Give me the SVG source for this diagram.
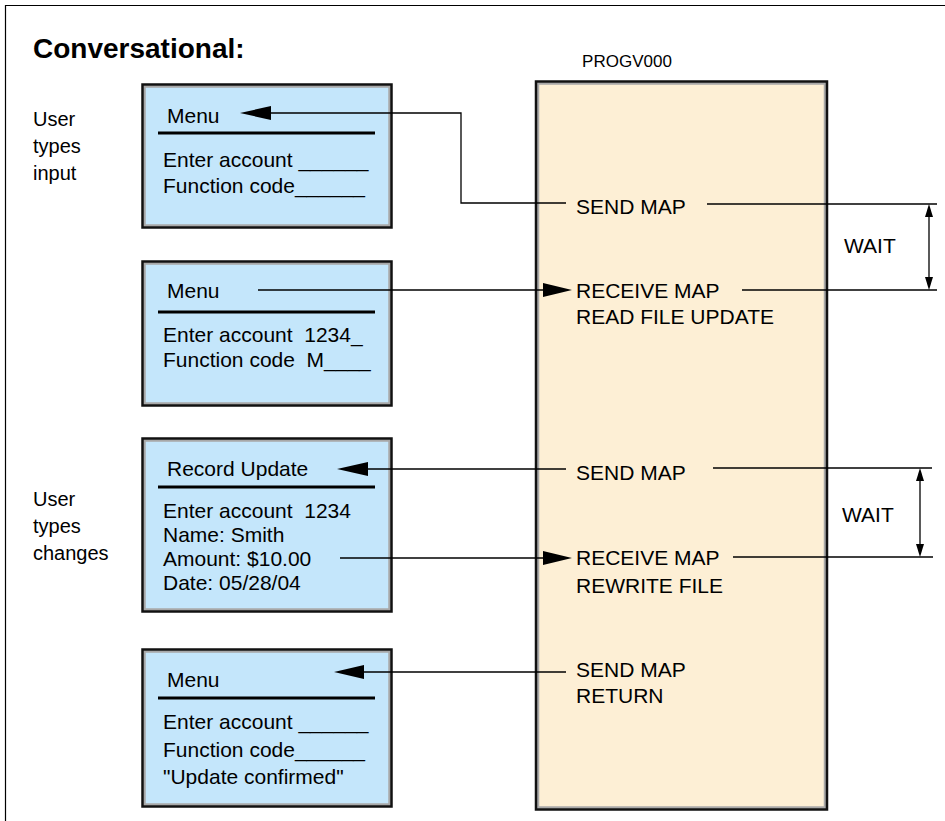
<svg xmlns="http://www.w3.org/2000/svg" width="945" height="821" viewBox="0 0 945 821">
<style>
text{font-family:"Liberation Sans",Arial,sans-serif;fill:#000;white-space:pre}
.t{font-size:21px}
.lbl{font-size:20px}
.title{font-size:28px;font-weight:bold}
.outer{fill:none;stroke:#111;stroke-width:2.5}
.inner{stroke:#a8a8a8;stroke-width:2.5}
.scr{fill:#c4e6fb}
.prog{fill:#fdefd5}
.sep{stroke:#000;stroke-width:3}
.ln{fill:none;stroke:#000;stroke-width:1.3}
.head{fill:#000}
</style>
<rect x="0" y="0" width="945" height="821" fill="#fff"/>
<path d="M5.5,821 V5.5 H945" fill="none" stroke="#000" stroke-width="1.2"/>
<text class="title" x="33" y="58">Conversational:</text>
<g id="labels">
<text class="lbl" x="33" y="126">User</text>
<text class="lbl" x="33" y="153">types</text>
<text class="lbl" x="33" y="180">input</text>
<text class="lbl" x="33" y="506">User</text>
<text class="lbl" x="33" y="533">types</text>
<text class="lbl" x="33" y="560">changes</text>
</g>
<g id="program">
<text class="t" x="627" y="67" style="font-size:17px" text-anchor="middle">PROGV000</text>
<rect class="inner prog" x="538" y="83.5" width="287" height="724"/>
<rect class="outer" x="536" y="81.5" width="291" height="728"/>
<text class="t" x="576" y="214">SEND MAP</text>
<text class="t" x="576" y="298">RECEIVE MAP</text>
<text class="t" x="576" y="324">READ FILE UPDATE</text>
<text class="t" x="576" y="480">SEND MAP</text>
<text class="t" x="576" y="565">RECEIVE MAP</text>
<text class="t" x="576" y="593">REWRITE FILE</text>
<text class="t" x="576" y="677">SEND MAP</text>
<text class="t" x="576" y="703">RETURN</text>
</g>
<g id="screen1">
<rect class="inner scr" x="144.5" y="86.5" width="245" height="139"/>
<rect class="outer" x="142.5" y="84.5" width="249" height="143"/>
<text class="t" x="167" y="123">Menu</text>
<line class="sep" x1="158" y1="133" x2="375" y2="133"/>
<text class="t" x="163" y="167">Enter account ______</text>
<text class="t" x="163" y="193">Function code______</text>
</g>
<g id="screen2">
<rect class="inner scr" x="144.5" y="263.5" width="245" height="140"/>
<rect class="outer" x="142.5" y="261.5" width="249" height="144"/>
<text class="t" x="167" y="298">Menu</text>
<line class="sep" x1="158" y1="312" x2="375" y2="312"/>
<text class="t" x="163" y="342">Enter account  1234_</text>
<text class="t" x="163" y="367">Function code  M____</text>
</g>
<g id="screen3">
<rect class="inner scr" x="144.5" y="440.5" width="245" height="169"/>
<rect class="outer" x="142.5" y="438.5" width="249" height="173"/>
<text class="t" x="167" y="476">Record Update</text>
<line class="sep" x1="158" y1="487" x2="375" y2="487"/>
<text class="t" x="163" y="518">Enter account  1234</text>
<text class="t" x="163" y="542">Name: Smith</text>
<text class="t" x="163" y="566">Amount: $10.00</text>
<text class="t" x="163" y="590">Date: 05/28/04</text>
</g>
<g id="screen4">
<rect class="inner scr" x="144.5" y="651.5" width="245" height="153"/>
<rect class="outer" x="142.5" y="649.5" width="249" height="157"/>
<text class="t" x="167" y="687">Menu</text>
<line class="sep" x1="158" y1="698" x2="375" y2="698"/>
<text class="t" x="163" y="729">Enter account ______</text>
<text class="t" x="163" y="757">Function code______</text>
<text class="t" x="163" y="784">"Update confirmed"</text>
</g>
<g id="connectors">
<polyline class="ln" points="270,113 461,113 461,203 566,203"/>
<polygon class="head" points="240,113 271,106 271,120"/>
<line class="ln" x1="258" y1="290" x2="545" y2="290"/>
<polygon class="head" points="572,290 543,283 543,297"/>
<line class="ln" x1="366" y1="469" x2="566" y2="469"/>
<polygon class="head" points="337,469 368,462 368,476"/>
<line class="ln" x1="340" y1="558" x2="545" y2="558"/>
<polygon class="head" points="572,558 543,551 543,565"/>
<line class="ln" x1="362" y1="672" x2="566" y2="672"/>
<polygon class="head" points="334,672 364,665 364,679"/>
<line class="ln" x1="707" y1="204" x2="937" y2="204"/>
<line class="ln" x1="742" y1="290" x2="937" y2="290"/>
<line class="ln" x1="929" y1="214" x2="929" y2="280"/>
<polygon class="head" points="929,204 925,217 933,217"/>
<polygon class="head" points="929,290 925,277 933,277"/>
<line class="ln" x1="713" y1="468" x2="932" y2="468"/>
<line class="ln" x1="733" y1="557" x2="933" y2="557"/>
<line class="ln" x1="920" y1="478" x2="920" y2="547"/>
<polygon class="head" points="920,468 916,481 924,481"/>
<polygon class="head" points="920,557 916,544 924,544"/>
<text class="t" x="844" y="253">WAIT</text>
<text class="t" x="842" y="522">WAIT</text>
</g>
</svg>
